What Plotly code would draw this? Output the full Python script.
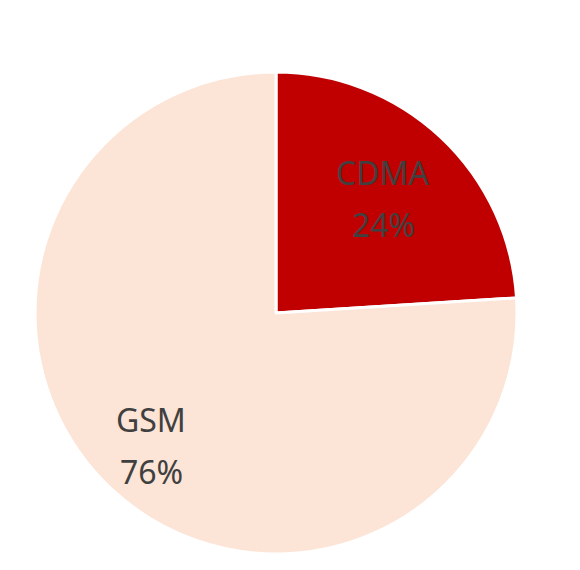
import math
import plotly.graph_objects as go

# network share by standard
labels = ["CDMA", "GSM"]
shares = [24, 76]
colors = ["#C00000", "#FCE4D6"]

W, H = 580, 570
dom_x = [0.0466, 0.8776]
dom_y = [0.0421, 0.8877]
label_r = [0.65, 0.755]  # how far out each label sits (fraction of radius)

fig = go.Figure()
fig.add_trace(go.Pie(
    labels=labels,
    values=shares,
    sort=False,
    direction="clockwise",
    rotation=0,
    marker=dict(colors=colors, line=dict(color="white", width=3)),
    textinfo="none",
    hoverinfo="label+percent",
    showlegend=False,
    domain=dict(x=dom_x, y=dom_y),
))

# put the labels along each slice's bisector, like excel does
cx = (dom_x[0] + dom_x[1]) / 2
cy = (dom_y[0] + dom_y[1]) / 2
r_px = min((dom_x[1] - dom_x[0]) * W, (dom_y[1] - dom_y[0]) * H) / 2
total = sum(shares)
start = 0
for lab, v, f in zip(labels, shares, label_r):
    mid = (start + v / 2) / total * 2 * math.pi
    start += v
    x = cx + f * r_px * math.sin(mid) / W
    y = cy + f * r_px * math.cos(mid) / H
    for txt, shift in [(lab, 26), (f"{round(v / total * 100)}%", -26)]:
        fig.add_annotation(
            x=x, y=y, xref="paper", yref="paper",
            xanchor="center", yanchor="middle",
            text=txt, showarrow=False, yshift=shift,
            font=dict(family="Noto Sans", size=32, color="#404040"),
        )

fig.update_layout(
    width=W,
    height=H,
    margin=dict(l=0, r=0, t=0, b=0),
    paper_bgcolor="white",
)

fig.write_html("out.html")
